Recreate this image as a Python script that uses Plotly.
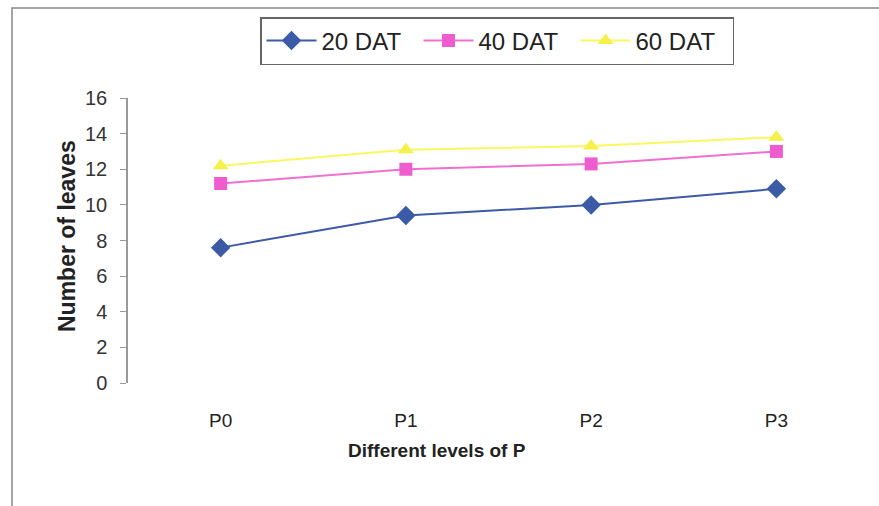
import plotly.graph_objects as go

# Phosphorus levels and leaf counts at three sampling dates
levels = ["P0", "P1", "P2", "P3"]
dat20 = [7.6, 9.4, 10.0, 10.9]
dat40 = [11.2, 12.0, 12.3, 13.0]
dat60 = [12.2, 13.1, 13.3, 13.8]
y_ticks = [0, 2, 4, 6, 8, 10, 12, 14, 16]

W, H = 879, 506
L, R, T, B = 128, 10, 98, 123
pw, ph = W - L - R, H - T - B


def px(x):
    return (x - L) / pw


def py(y):
    return (H - B - y) / ph


fig = go.Figure()
fig.add_trace(go.Scatter(
    x=levels, y=dat20, name="20 DAT", mode="lines+markers",
    line=dict(color="#3D5AA8", width=2),
    marker=dict(symbol="diamond", size=15, color="#3C5BA6"),
))
fig.add_trace(go.Scatter(
    x=levels, y=dat40, name="40 DAT", mode="lines+markers",
    line=dict(color="#F070D0", width=2),
    marker=dict(symbol="square", size=13, color="#EE5CD0"),
))
fig.add_trace(go.Scatter(
    x=levels, y=dat60, name="60 DAT", mode="lines+markers",
    line=dict(color="#FAF760", width=2),
    marker=dict(symbol="triangle-up", size=14, color="#F5F04A"),
))

font = "Arial, Liberation Sans, sans-serif"

fig.update_layout(
    width=W, height=H,
    margin=dict(l=L, r=R, t=T, b=B),
    paper_bgcolor="white", plot_bgcolor="white",
    font=dict(family=font, size=16, color="#222"),
    showlegend=True,
    legend=dict(
        orientation="h", x=px(260), y=py(17), xanchor="left", yanchor="top",
        bordercolor="#666", borderwidth=1.5, bgcolor="white",
        font=dict(size=24, color="#222"), itemwidth=50,
        entrywidth=92, entrywidthmode="pixels",
        tracegroupgap=0,
    ),
    xaxis=dict(
        type="category", range=[-0.5, 3.5], showline=False, showgrid=False,
        zeroline=False, ticks="", ticklabelstandoff=24,
        tickfont=dict(size=19, color="#222"),
    ),
    yaxis=dict(
        range=[0, 16], tickvals=y_ticks, showline=True, linecolor="#999",
        linewidth=1.5, ticks="outside", ticklen=6, tickcolor="#999",
        showgrid=False, zeroline=False, tickfont=dict(size=20, color="#333"),
        ticklabelstandoff=9,
    ),
    annotations=[
        dict(text="<b>Different levels of P</b>", xref="paper", yref="paper",
             x=px(437), y=py(463), showarrow=False,
             font=dict(size=19, color="#222")),
        dict(text="<b>Number of leaves</b>", xref="paper", yref="paper",
             x=px(52), y=py(236), showarrow=False, textangle=-90,
             font=dict(size=23, color="#222")),
    ],
    shapes=[
        dict(type="rect", xref="paper", yref="paper",
             x0=px(12), y0=py(520), x1=px(900), y1=py(8),
             line=dict(color="#888", width=1.5), layer="below"),
    ],
)

fig.write_html("out.html")
